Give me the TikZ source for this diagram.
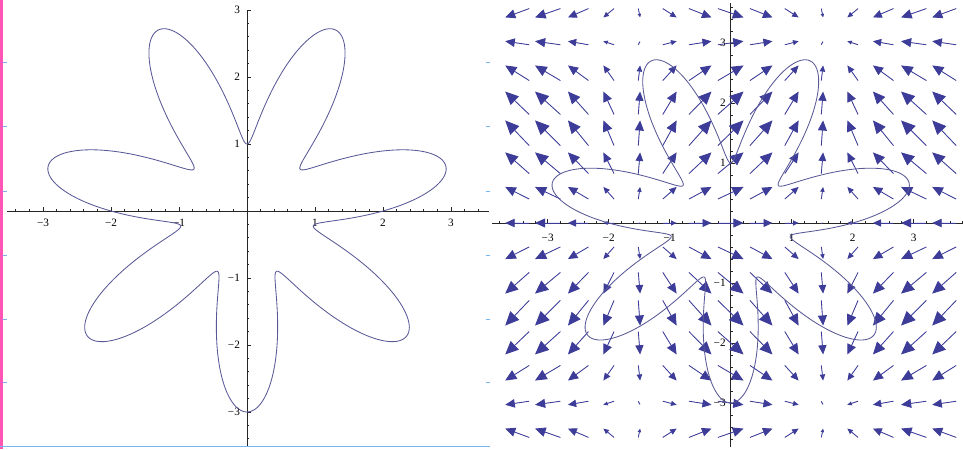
\documentclass[tikz,border=0pt]{standalone}
\usepackage{fontspec}
\setmainfont{Liberation Serif}
\usetikzlibrary{arrows.meta}
\definecolor{fieldblue}{rgb}{0.24,0.24,0.6}
\definecolor{curveblue}{RGB}{88,88,150}
\definecolor{marginpink}{RGB}{255,85,180}
\definecolor{rulerblue}{RGB}{120,180,240}

\begin{document}
\begin{tikzpicture}[font=\fontsize{8}{9}\selectfont,
  axis/.style={draw=black!85, line width=0.5pt},
  tick/.style={draw=black!85, line width=0.45pt},
  xlab/.style={anchor=north, inner sep=0pt},
  ylab/.style={anchor=east, inner sep=0pt},
  flower/.style={draw=curveblue, line width=0.6pt},
  vec/.style={draw=fieldblue, line width=0.6pt}]
\useasboundingbox (0,0) rectangle (24.075,11.225);
% editor margins
\fill[marginpink] (0,0) rectangle (0.07,11.225);
\draw[rulerblue, line width=1pt] (0,0.06) -- (12.25,0.06);
\foreach \h in {62.7,126.7,191,255,319,382.7}{
  \draw[rulerblue, line width=0.6pt] (0.08,{(449-\h)*0.025}) -- ++(0.1,0);
  \draw[rulerblue, line width=0.6pt] (12.15,{(449-\h)*0.025}) -- ++(0.1,0);
}

% left panel: r = 2 + sin(7 theta)
\begin{scope}[shift={(6.175,5.95)}, x=1.7cm, y=1.675cm]
  \draw[axis] (-3.53,0) -- (3.56,0);
  \draw[axis] (0,-3.5) -- (0,3);
  \foreach \k in {-17,...,17} \draw[tick] (\k/5,0) -- ++(0pt,1.5pt);
  \foreach \k in {-17,...,15} \draw[tick] (0,\k/5) -- ++(1.5pt,0pt);
  \foreach \n/\txt [count=\c] in {-3/−3,-2/−2,-1/−1,1/1,2/2,3/3}{
    \draw[tick] (\n,0) -- ++(0pt,3pt);
    \draw[tick] (0,\n) -- ++(3pt,0pt);
    \node[xlab] (lx\c) at ([yshift=-0.2cm]\n,0) {\txt};
    \node[ylab] (ly\c) at ([xshift=-0.17cm]0,\n) {\txt};
  }
  \draw[flower] plot[domain=0:360, samples=600, smooth]
    ({(2+sin(7*\x))*cos(\x)}, {(2+sin(7*\x))*sin(\x)}) -- cycle;
\end{scope}

% right panel: field (cos x, sin y) with the same curve
\begin{scope}[shift={(18.2675,5.65)}, x=1.525cm, y=1.5cm]
  \draw[axis] (-3.91,0) -- (3.81,0);
  \draw[axis] (0,-3.73) -- (0,3.67);
  \foreach \k in {-19,...,19} \draw[tick] (\k/5,0) -- ++(0pt,1.5pt);
  \foreach \k in {-18,...,18} \draw[tick] (0,\k/5) -- ++(1.5pt,0pt);
  \foreach \n/\txt [count=\c] in {-3/−3,-2/−2,-1/−1,1/1,2/2,3/3}{
    \draw[tick] (\n,0) -- ++(0pt,3pt);
    \draw[tick] (0,\n) -- ++(3pt,0pt);
    \node[xlab] (rx\c) at ([yshift=-0.26cm]\n,0) {\txt};
    \node[ylab] (ry\c) at ([xshift=-0.12cm]0,\n) {\txt};
  }
  \foreach \gx in {-3.5,-3,...,3.5}{
    \foreach \gy in {-3.5,-3,...,3.5}{
      \pgfmathsetmacro{\vu}{cos(deg(\gx))}
      \pgfmathsetmacro{\vv}{sin(deg(\gy))}
      \pgfmathsetmacro{\vm}{sqrt((\vu)*(\vu)+(\vv)*(\vv))}
      \pgfmathsetmacro{\hl}{7.2*\vm}
      \pgfmathsetmacro{\hw}{6.4*\vm}
      \draw[vec, -{Triangle[length=\hl pt, width=\hw pt]}, fill=fieldblue]
        ({\gx-0.21*(\vu)}, {\gy-0.21*(\vv)}) -- ({\gx+0.21*(\vu)}, {\gy+0.21*(\vv)});
    }
  }
  \draw[flower] plot[domain=0:360, samples=600, smooth]
    ({(2+sin(7*\x))*cos(\x)}, {(2+sin(7*\x))*sin(\x)}) -- cycle;
\end{scope}
\end{tikzpicture}
\end{document}
